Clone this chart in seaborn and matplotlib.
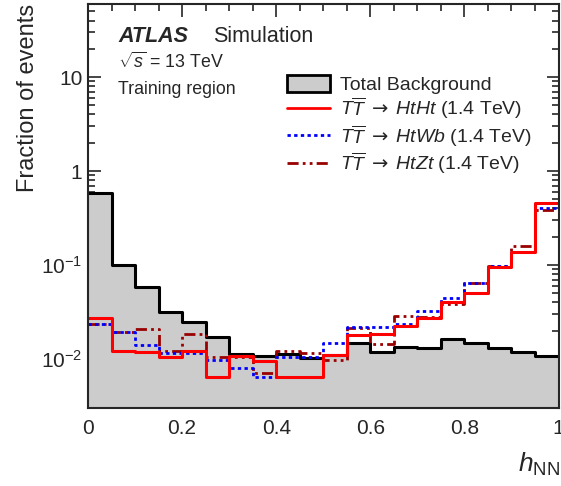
import numpy as np
import pandas as pd
import matplotlib
matplotlib.use("Agg")
import matplotlib.pyplot as plt
import seaborn as sns
from matplotlib.patches import Patch
from matplotlib.lines import Line2D
from matplotlib.ticker import FixedLocator, FuncFormatter, LogLocator, MultipleLocator

# ---- data ----
bin_edges = [round(0.05 * i, 2) for i in range(21)]
background = [0.583, 0.099, 0.0589, 0.0314, 0.025, 0.0173, 0.0113, 0.01076, 0.0112, 0.0102,
              0.0109, 0.0146, 0.0119, 0.0135, 0.0132, 0.0162, 0.0146, 0.0129, 0.0119, 0.0108]
htht = [0.0275, 0.0122, 0.0119, 0.0105, 0.0122, 0.00644, 0.0108, 0.00945, 0.00644, 0.00644,
        0.0109, 0.0179, 0.0186, 0.0223, 0.0273, 0.0404, 0.0504, 0.0953, 0.1375, 0.457]
htwb = [0.0234, 0.0191, 0.0139, 0.0116, 0.0116, 0.00985, 0.0080, 0.00634, 0.0105, 0.0105,
        0.0147, 0.0217, 0.0217, 0.0238, 0.0327, 0.0446, 0.0638, 0.0968, 0.1375, 0.404]
htzt = [0.0234, 0.0195, 0.0207, 0.0121, 0.0186, 0.0105, 0.0105, 0.0070, 0.0121, 0.0115,
        0.0097, 0.0214, 0.0144, 0.0289, 0.028, 0.0382, 0.0638, 0.0968, 0.158, 0.385]
legend_labels = ["Total Background",
                 r"$T\overline{T}\;\mathsf{\rightarrow}\;HtHt$ (1.4 TeV)",
                 r"$T\overline{T}\;\mathsf{\rightarrow}\;HtWb$ (1.4 TeV)",
                 r"$T\overline{T}\;\mathsf{\rightarrow}\;HtZt$ (1.4 TeV)"]

sns.set_style("ticks")
plt.rcParams["font.family"] = ["Liberation Sans", "DejaVu Sans"]
plt.rcParams["mathtext.fontset"] = "custom"
plt.rcParams["mathtext.rm"] = "Liberation Sans"
plt.rcParams["mathtext.it"] = "Liberation Sans:italic"
plt.rcParams["mathtext.bf"] = "Liberation Sans:bold"
plt.rcParams["mathtext.sf"] = "DejaVu Sans"

edges = np.array(bin_edges)
centers = (edges[:-1] + edges[1:]) / 2
df = pd.DataFrame({"h": centers, "bg": background, "htht": htht, "htwb": htwb, "htzt": htzt})
bw = 0.05
br = (bin_edges[0], bin_edges[-1])

fig = plt.figure(figsize=(5.61, 4.86), dpi=100)
ax = fig.add_axes([88 / 561, 1 - 408 / 486, 470.5 / 561, 404 / 486])
ax.set_yscale("log")

bg_fill = "#cccccc"
dashdotdot = (0, (4, 1.5, 1, 1.5, 1, 1.5))
dotted = (0, (1.2, 1.2))
sns.histplot(data=df, x="h", weights="bg", binwidth=bw, binrange=br, element="step", fill=True,
             color=bg_fill, alpha=1, linewidth=0, ax=ax)
sns.histplot(data=df, x="h", weights="bg", binwidth=bw, binrange=br, element="step", fill=False,
             color="black", linewidth=2.2, ax=ax)
sns.histplot(data=df, x="h", weights="htzt", binwidth=bw, binrange=br, element="step", fill=False,
             color="#990000", linewidth=2.0, linestyle=dashdotdot, ax=ax)
sns.histplot(data=df, x="h", weights="htwb", binwidth=bw, binrange=br, element="step", fill=False,
             color="#0000ff", linewidth=2.0, linestyle=dotted, ax=ax)
sns.histplot(data=df, x="h", weights="htht", binwidth=bw, binrange=br, element="step", fill=False,
             color="#ff0000", linewidth=2.2, ax=ax)

ax.set_xlim(0, 1)
ax.set_ylim(3e-3, 60)
ax.set_xlabel("")
ax.set_ylabel("")

ax.xaxis.set_major_locator(MultipleLocator(0.2))
ax.xaxis.set_minor_locator(MultipleLocator(0.05))
ax.xaxis.set_major_formatter(FuncFormatter(lambda v, p: "0" if abs(v) < 1e-9 else ("1" if abs(v - 1) < 1e-9 else f"{v:.1f}")))
ax.yaxis.set_major_locator(FixedLocator([0.01, 0.1, 1, 10]))
ax.yaxis.set_minor_locator(LogLocator(base=10, subs=np.arange(2, 10), numticks=20))
ylabels = {0.01: r"$10^{-2}$", 0.1: r"$10^{-1}$", 1: "1", 10: "10"}
ax.yaxis.set_major_formatter(FuncFormatter(lambda v, p: ylabels.get(round(v, 4), "")))
ax.tick_params(which="both", direction="in", top=True, right=True, labelsize=15, width=1.2)
ax.tick_params(which="major", length=9)
ax.tick_params(which="minor", length=5)
ax.tick_params(axis="x", which="major", pad=8)
ax.tick_params(axis="y", which="major", pad=4)
for s in ax.spines.values():
    s.set_linewidth(1.5)
    s.set_zorder(5)

fig.text(28 / 561, 1 - 4 / 486, "Fraction of events", rotation=90, ha="center", va="top", fontsize=17)
fig.text(560 / 561, 1 - 464 / 486, r"$h_{\mathrm{NN}}$", ha="right", va="center", fontsize=19)

ax.text(118 / 561, 1 - 42 / 486, "ATLAS", transform=fig.transFigure, fontsize=15.5,
        fontweight="bold", fontstyle="italic", ha="left", va="baseline")
ax.text(213 / 561, 1 - 42 / 486, "Simulation", transform=fig.transFigure, fontsize=15.5,
        ha="left", va="baseline")
ax.text(118 / 561, 1 - 68 / 486, r"$\sqrt{s}$ = 13 TeV", transform=fig.transFigure, fontsize=12.8,
        ha="left", va="baseline")
ax.text(118 / 561, 1 - 94 / 486, "Training region", transform=fig.transFigure, fontsize=12.8,
        ha="left", va="baseline")

handles = [Patch(facecolor=bg_fill, edgecolor="black", linewidth=2),
           Line2D([], [], color="#ff0000", linewidth=2),
           Line2D([], [], color="#0000ff", linewidth=2, linestyle=dotted),
           Line2D([], [], color="#990000", linewidth=2, linestyle=dashdotdot)]
ax.legend(handles, legend_labels, loc="upper left", bbox_to_anchor=(287 / 561, 1 - 75 / 486),
          bbox_transform=fig.transFigure, frameon=False, fontsize=14, handlelength=2.2,
          handleheight=0.95, handletextpad=0.5, labelspacing=0.08, borderpad=0, borderaxespad=0)

fig.savefig("out.png", dpi=100)
